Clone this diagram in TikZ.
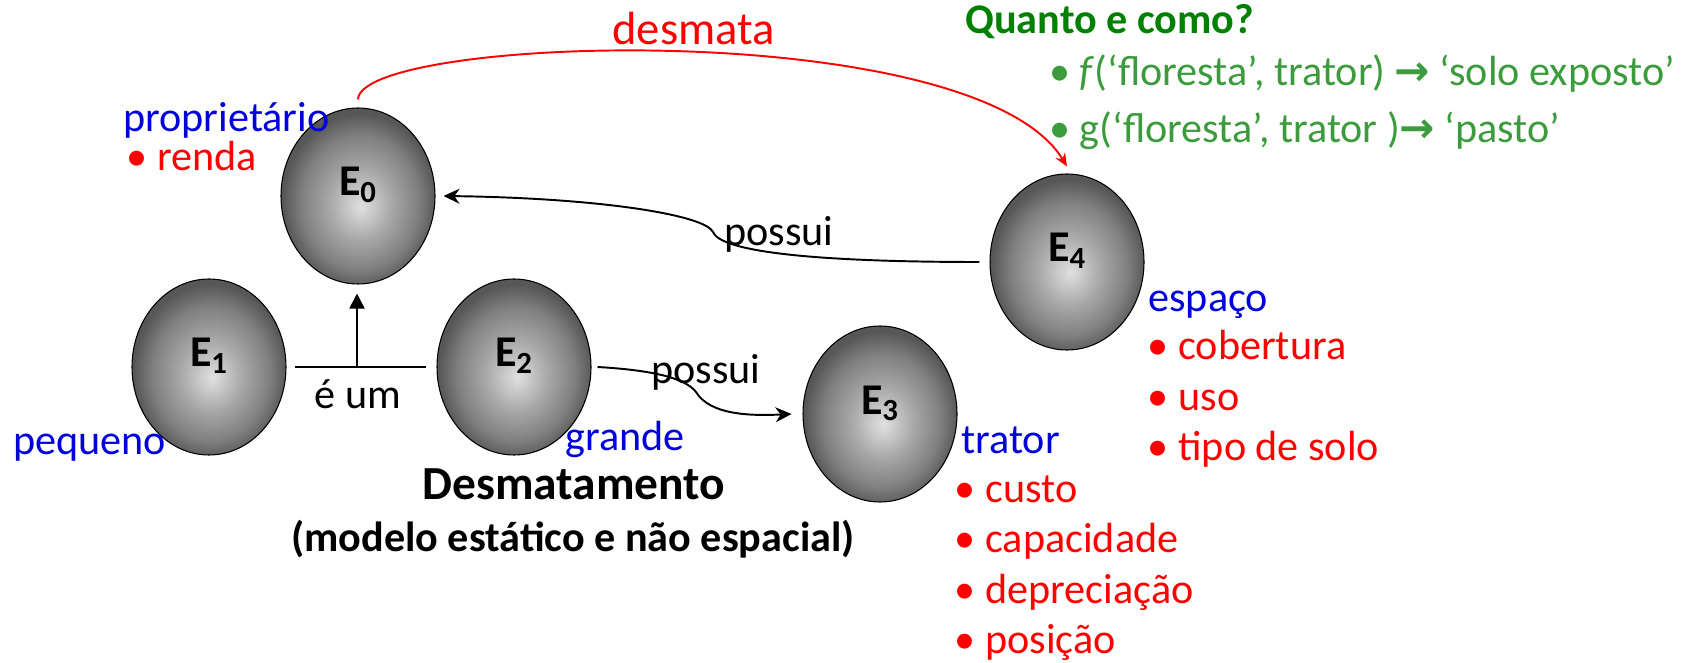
\documentclass[tikz,border=0pt]{standalone}
\usepackage{fontspec}
\setmainfont{Carlito}
\newfontfamily\arrowfont{DejaVu Sans}
\usetikzlibrary{shapes.geometric, arrows.meta, positioning}
\definecolor{labelblue}{RGB}{0,0,220}
\definecolor{attrred}{RGB}{255,0,0}
\definecolor{darkgreen}{RGB}{0,128,0}
\definecolor{rulegreen}{RGB}{60,155,60}
\pgfdeclareradialshading{orb}{\pgfpoint{1bp}{-3bp}}{color(0bp)=(black!12); color(10bp)=(black!34); color(19bp)=(black!50); color(25bp)=(black!66); color(50bp)=(black!66)}
\tikzset{
  entity/.style={ellipse, draw=black, line width=0.6pt, shading=orb, minimum width=3.08cm, minimum height=3.52cm, inner sep=0pt, font=\fontsize{25}{30}\selectfont\bfseries, text height=0.54cm, text depth=0.54cm},
  lbl/.style={anchor=base west, inner sep=0pt, font=\fontsize{24}{28}\selectfont},
  link/.style={line width=1.1pt, black},
  arrow/.style={link, -{Stealth[length=0.32cm, width=0.3cm]}},
}

\begin{document}
\begin{tikzpicture}

  \useasboundingbox (0,0) rectangle (33.9,-13.26);

  % entidades
  \node[entity] (e0) at (7.16,-3.92) {E\textsubscript{0}};
  \node[entity] (e1) at (4.18,-7.34) {E\textsubscript{1}};
  \node[entity] (e2) at (10.28,-7.34) {E\textsubscript{2}};
  \node[entity] (e3) at (17.60,-8.28) {E\textsubscript{3}};
  \node[entity] (e4) at (21.34,-5.24) {E\textsubscript{4}};

  % é um
  \draw[link, shorten <=0.16cm, shorten >=0.2cm] (e1) -- (e2);
  \coordinate (isa) at (7.14,-7.34);
  \draw[link, -{Triangle[length=0.3cm, width=0.3cm]}, shorten >=0.18cm] (isa) -- (isa |- e0.south);
  \node[lbl, anchor=base] (isalbl) at (7.16,-8.16) {é um};

  % possui (E4 -> E0)
  \draw[arrow] ([xshift=-0.2cm]e4.west) .. controls (16,-5.24) and (14.4,-5.0) .. (14.26,-4.64)
    .. controls (14.1,-4.3) and (12,-3.96) .. ([xshift=0.16cm]e0.east);
  \node[lbl] (has1) at (14.48,-4.92) {possui};

  % possui (E2 -> E3)
  \draw[arrow] ([xshift=0.12cm]e2.east) .. controls (13,-7.4) and (13.7,-7.55) .. (13.92,-7.84)
    .. controls (14.2,-8.3) and (15,-8.32) .. ([xshift=-0.22cm]e3.west);
  \node[lbl] (has2) at (13.02,-7.66) {possui};

  % desmata (E0 -> E4)
  \draw[attrred, line width=1.1pt, -{Stealth[length=0.26cm, width=0.22cm]}]
    ([yshift=0.16cm]e0.north) .. controls (7.2,-0.7) and (19.5,-0.3) .. ([yshift=0.14cm]e4.north);
  \node[lbl, attrred, font=\fontsize{26.5}{30}\selectfont] (cut) at (12.24,-0.9) {desmata};

  % proprietário
  \node[lbl, labelblue] (owner) at (2.46,-2.64) {proprietário};
  \node[lbl, attrred] (income) at (2.53,-3.42) {• renda};
  \node[lbl, labelblue] (small) at (0.26,-9.08) {pequeno};
  \node[lbl, labelblue] (large) at (11.3,-9.0) {grande};

  % trator
  \node[lbl, labelblue] (tractor) at (19.22,-9.06) {trator};
  \foreach \txt [count=\i] in {custo, capacidade, depreciação, posição}
    \node[lbl, attrred] (tr\i) at (19.09,-9.03-1.01*\i) {• \txt};

  % espaço
  \node[lbl, labelblue] (space) at (22.96,-6.24) {espaço};
  \foreach \txt [count=\i] in {cobertura, uso, tipo de solo}
    \node[lbl, attrred] (sp\i) at (22.95,-6.19-1.01*\i) {• \txt};

  % regras
  \node[lbl, darkgreen, font=\fontsize{24}{28}\selectfont\bfseries] (quest) at (19.3,-0.68) {Quanto e como?};
  \node[lbl, rulegreen] (rule1) at (20.98,-1.72) {• \textit{f}(‘floresta’, trator) {\arrowfont\bfseries →} ‘solo exposto’};
  \node[lbl, rulegreen] (rule2) at (20.98,-2.86) {• g(‘floresta’, trator ){\arrowfont\bfseries →} ‘pasto’};

  % título
  \node[lbl, anchor=base, font=\fontsize{27}{32}\selectfont\bfseries] (title) at (11.48,-9.98) {Desmatamento};
  \node[lbl, anchor=base, font=\fontsize{24}{28}\selectfont\bfseries] (subtitle) at (11.46,-11.02) {(modelo estático e não espacial)};

\end{tikzpicture}
\end{document}
